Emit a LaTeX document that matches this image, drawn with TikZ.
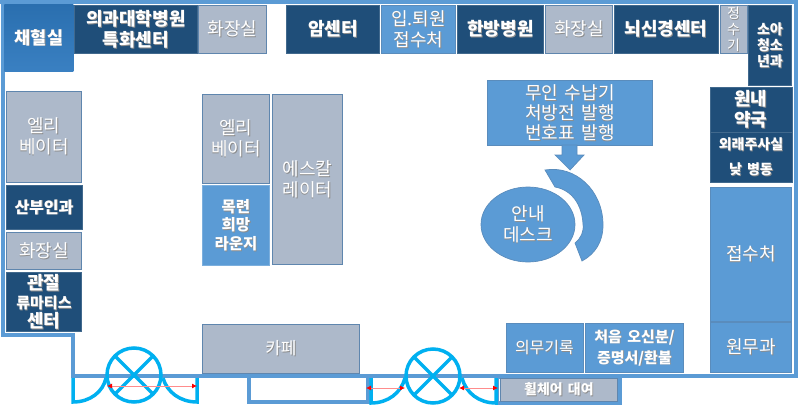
\documentclass[tikz,border=0pt]{standalone}
\usepackage{fontspec}
\setmainfont[WordSpace=1.6]{Noto Sans CJK KR}
\usepackage{tikz}
\usetikzlibrary{arrows.meta, shapes.geometric}
\definecolor{wallblue}{HTML}{5B9BD5}
\definecolor{darkroom}{HTML}{1F4E79}
\definecolor{grayroom}{HTML}{ADB9CA}
\definecolor{grayedge}{HTML}{5F86AE}
\definecolor{midedge}{HTML}{5A8CBC}
\definecolor{doorblue}{HTML}{00B0F0}
\definecolor{bloodtop}{HTML}{2A6FAF}
\definecolor{bloodlow}{HTML}{3A80C2}
\newcommand{\sh}[1]{\leavevmode\rlap{\raisebox{-.8pt}{\kern.8pt\textcolor{black!45}{#1}}}#1}
\tikzset{
  room/.style={
    rectangle,
    anchor=north west,
    inner sep=0pt,
    text=white,
    align=center,
    line width=.9pt},
  darkbox/.style={room, fill=darkroom, draw=darkroom!85!white, font=\bfseries\fontsize{18pt}{21pt}\selectfont},
  midbox/.style={room, fill=wallblue, draw=midedge, font=\fontsize{18pt}{21pt}\selectfont},
  graybox/.style={room, fill=grayroom, draw=grayedge, font=\fontsize{18pt}{21pt}\selectfont},
  wall/.style={draw=wallblue, line width=4pt, line join=miter},
  door/.style={draw=doorblue, line width=3.5pt},
  swing/.style={draw=red!45, line width=.8pt, {Latex[red,length=5pt,width=5pt]}-{Latex[red,length=5pt,width=5pt]}},
}
\begin{document}
\begin{tikzpicture}[x=1pt,y=-1pt]
  \useasboundingbox (0,0) rectangle (800,407);
  % walls
  \draw[wall] (0,2) -- (796,2) -- (796,376) -- (73,376) -- (73,335) -- (3,335) -- (3,2);
  \draw[wall] (249,376) -- (249,402) -- (368,402) -- (368,376);
  \draw[wall] (497,377) rectangle (620,403);
  % top row
  \node[room, top color=bloodtop, bottom color=bloodlow, draw=none, font=\bfseries\fontsize{17.5pt}{21pt}\selectfont, minimum width=69pt, minimum height=67pt] (Chaehyeol) at (4,4) {\sh{채혈실}};
  \node[darkbox, minimum width=123pt, minimum height=48pt] (Specialty) at (74,5) {\sh{의과대학병원}\\\sh{특화센터}};
  \node[graybox, minimum width=68pt, minimum height=48pt] (ToiletA) at (198,5) {\sh{화장실}};
  \node[darkbox, minimum width=93pt, minimum height=48pt] (Cancer) at (286,5) {\sh{암센터}};
  \node[midbox, minimum width=74pt, minimum height=48pt] (Admission) at (381,5) {\sh{입.퇴원}\\\sh{접수처}};
  \node[darkbox, minimum width=86pt, minimum height=48pt] (Oriental) at (457,5) {\sh{한방병원}};
  \node[graybox, minimum width=67pt, minimum height=48pt] (ToiletB) at (545,5) {\sh{화장실}};
  \node[darkbox, minimum width=104pt, minimum height=48pt] (Neuro) at (613.5,5) {\sh{뇌신경센터}};
  \node[graybox, minimum width=27pt, minimum height=48pt, font=\fontsize{14pt}{16pt}\selectfont] (Water) at (719.5,5) {\sh{정}\\\sh{수}\\\sh{기}};
  \node[darkbox, minimum width=43pt, minimum height=80pt, font=\bfseries\fontsize{14pt}{16pt}\selectfont] (Pediatric) at (748,5) {\sh{소아}\\\sh{청소}\\\sh{년과}};
  % right column
  \node[darkbox, minimum width=82pt, minimum height=45pt] (Pharmacy) at (709.5,86.5) {\sh{원내}\\\sh{약국}};
  \node[darkbox, minimum width=82pt, minimum height=50pt, font=\bfseries\fontsize{14pt}{25pt}\selectfont] (Injection) at (709.5,132) {\sh{외래주사실}\\\sh{낮 병동}};
  \node[midbox, minimum width=81pt, minimum height=134pt] (Reception) at (710,187) {\sh{접수처}};
  \node[midbox, minimum width=81pt, minimum height=50pt] (Finance) at (710,322) {\sh{원무과}};
  % bottom row
  \node[midbox, minimum width=98pt, minimum height=49pt, font=\bfseries\fontsize{15pt}{21pt}\selectfont] (FirstVisit) at (585,323) {\sh{처음 오신분/}\\\sh{증명서/환불}};
  \node[midbox, minimum width=77pt, minimum height=49pt, font=\fontsize{16pt}{20pt}\selectfont] (Records) at (505.5,323) {\sh{의무기록}};
  \node[graybox, minimum width=117pt, minimum height=23pt, font=\bfseries\fontsize{14pt}{16pt}\selectfont] (Wheelchair) at (500,378) {\sh{휠체어 대여}};
  \node[graybox, minimum width=157pt, minimum height=49pt, font=\fontsize{17pt}{20pt}\selectfont] (Cafe) at (202,323.5) {\sh{카페}};
  % centre
  \node[graybox, minimum width=67pt, minimum height=89pt] (ElevatorB) at (202,94) {\sh{엘리}\\\sh{베이터}};
  \node[room, fill=wallblue, draw=wallblue!80!white, minimum width=67pt, minimum height=80pt, font=\bfseries\fontsize{15.5pt}{18.5pt}\selectfont] (Lounge) at (202,185) {\sh{목련}\\\sh{희망}\\\sh{라운지}};
  \node[graybox, minimum width=70pt, minimum height=170pt] (Escalator) at (272,94) {\sh{에스칼}\\\sh{레이터}};
  % left column
  \node[graybox, minimum width=75pt, minimum height=91pt] (ElevatorA) at (6,91) {\sh{엘리}\\\sh{베이터}};
  \node[darkbox, minimum width=76pt, minimum height=44pt, font=\bfseries\fontsize{16pt}{20pt}\selectfont] (Obgyn) at (5.5,185) {\sh{산부인과}};
  \node[graybox, minimum width=75pt, minimum height=37pt] (ToiletC) at (6,232) {\sh{화장실}};
  \node[darkbox, minimum width=75pt, minimum height=59pt, font=\bfseries\fontsize{18pt}{19pt}\selectfont] (Joint) at (6,272) {\sh{관절}\\{\fontsize{15pt}{19pt}\selectfont\sh{류마티스}}\\\sh{센터}};
  % kiosk and desk
  \node[midbox, minimum width=165pt, minimum height=65pt, font=\fontsize{18pt}{20pt}\selectfont] (Kiosk) at (487,80) {\sh{무인 수납기}\\\sh{처방전 발행}\\\sh{번호표 발행}};
  \filldraw[fill=wallblue, draw=midedge, line width=.7pt] (562,145) -- (577,145) -- (577,155) -- (584,155) -- (570,170) -- (555,155) -- (562,155) -- cycle;
  \filldraw[fill=wallblue, draw=midedge, line width=.7pt] (545,170) .. controls (575,165) and (603,190) .. (603,225) .. controls (603,242) and (595,254) .. (582,261) -- (575,243) .. controls (581,238) and (584,232) .. (583,224) .. controls (582,205) and (572,190) .. (555,187) -- cycle;
  \node[ellipse, inner sep=0pt, text=white, align=center, fill=wallblue, draw=midedge, line width=.7pt, minimum width=94pt, minimum height=75pt, font=\fontsize{18pt}{21pt}\selectfont] (Desk) at (528,224.5) {\sh{안내}\\\sh{데스크}};
  % revolving doors
  \foreach \cx/\cy in {134/375,433/376}{
    \draw[door] (\cx,\cy) circle (27);
    \draw[door] (\cx-19,\cy-19) -- (\cx+19,\cy+19);
    \draw[door] (\cx+19,\cy-19) -- (\cx-19,\cy+19);
  }
  \draw[door] (73,378) -- (73,402) .. controls (90,402) and (103,392) .. (106,378);
  \draw[door] (197,378) -- (197,402) .. controls (180,402) and (167,392) .. (163,378);
  \draw[door] (371,378) -- (371,403) .. controls (388,403) and (401,393) .. (405,378);
  \draw[door] (496,378) -- (496,403) .. controls (479,403) and (466,393) .. (462,378);
  \draw[swing] (107,386) -- (197,386);
  \draw[swing] (366,388) -- (405,388);
  \draw[swing] (459,388) -- (498,388);
\end{tikzpicture}
\end{document}
